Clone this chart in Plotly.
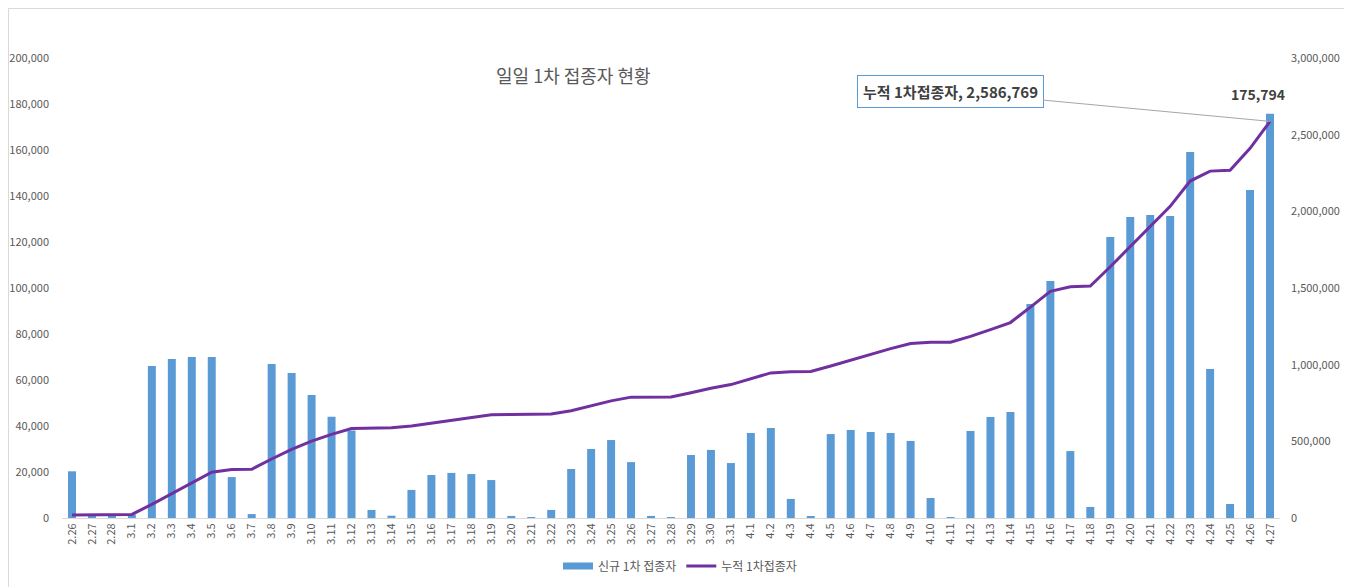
import plotly.graph_objects as go

dates = ["2.26", "2.27", "2.28"] + [f"3.{d}" for d in range(1, 32)] + [f"4.{d}" for d in range(1, 28)]

daily = [
    20300, 800, 700,
    1500, 66100, 69100, 70000, 70000, 17800, 1700, 67000, 63000, 53500,
    44000, 38000, 3500, 1000, 12200, 18700, 19600, 19100, 16500, 900,
    200, 3500, 21300, 30000, 33900, 24300, 900, 200, 27400, 29600, 23900,
    37000, 39100, 8300, 600, 36500, 38300, 37400, 37000, 33500, 8700,
    200, 37800, 43900, 46100, 93000, 103000, 29100, 4800, 122200, 130900,
    131700, 131300, 159100, 64800, 6100, 142600, 175794,
]

cumulative = [
    20300, 21100, 21800,
    23300, 89400, 158500, 228500, 298500, 316300, 318000, 385000, 448000, 501500,
    545500, 583500, 587000, 588000, 600200, 618900, 638500, 657600, 674100, 675000,
    675200, 678700, 700000, 730000, 763900, 788200, 789100, 789300, 816700, 846300, 870200,
    907200, 946300, 954600, 955200, 991700, 1030000, 1067400, 1104400, 1137900, 1146600,
    1146800, 1184600, 1228500, 1274600, 1375600, 1478600, 1507700, 1512500, 1638700, 1769600,
    1901300, 2032600, 2197500, 2262300, 2268400, 2411000, 2586769,
]

left_ticks = list(range(0, 200001, 20000))
right_ticks = list(range(0, 3000001, 500000))

FONT = "Noto Sans CJK KR"
GRAY = "#595959"
BLUE = "#5B9BD5"
last = len(dates) - 1

# page body has an 8px margin; figure is sized/positioned to compensate
W, H = 1344, 579
L, R, T, B = 54, 72, 50, 69
PW, PH = W - L - R, H - T - B

fig = go.Figure()
fig.add_trace(go.Bar(
    x=dates, y=daily, name="신규 1차 접종자", showlegend=False,
    marker=dict(color=BLUE, line=dict(width=0)), width=0.4,
))
fig.add_trace(go.Scatter(
    x=[None], y=[None], name="신규 1차 접종자", mode="lines",
    line=dict(color=BLUE, width=7),
))
fig.add_trace(go.Scatter(
    x=dates, y=cumulative, name="누적 1차접종자", yaxis="y2",
    mode="lines", line=dict(color="#7030A0", width=3),
))

fig.update_layout(
    width=W, height=H,
    margin=dict(l=L, r=R, t=T, b=B, autoexpand=False),
    paper_bgcolor="white", plot_bgcolor="white",
    font=dict(family=FONT, color=GRAY, size=11),
    showlegend=True,
    legend=dict(orientation="h", x=(680 - 8 - L) / PW, xanchor="center",
                y=(510 - 558) / PH, yanchor="middle",
                font=dict(size=12, color=GRAY), itemwidth=30, tracegroupgap=0),
    xaxis=dict(type="category", tickangle=-90, showgrid=False, showline=True,
               linecolor="#D9D9D9", linewidth=1, ticks="", tickfont=dict(size=11, color=GRAY),
               zeroline=False, range=[-0.5, 60.5], automargin=False),
    yaxis=dict(range=[0, 200000], tickvals=left_ticks, tickformat=",", showgrid=False,
               zeroline=False, showline=False, ticks="", ticklabelstandoff=12,
               tickfont=dict(size=11, color=GRAY), automargin=False),
    yaxis2=dict(range=[0, 3000000], tickvals=right_ticks, tickformat=",", overlaying="y",
                side="right", showgrid=False, zeroline=False, showline=False, ticks="",
                ticklabelstandoff=10, tickfont=dict(size=11, color=GRAY), automargin=False),
    annotations=[
        dict(text="일일 1차 접종자 현황", xref="paper", yref="paper",
             x=(573 - 8 - L) / PW, y=(510 - 67) / PH, xanchor="center", yanchor="middle",
             showarrow=False, font=dict(size=18, color=GRAY, family=FONT)),
        dict(text="<b>175,794</b>", x=last, y=daily[-1], xref="x", yref="y",
             yshift=8, xshift=-12, showarrow=False, yanchor="bottom",
             font=dict(size=14, color="#404040", family=FONT)),
        dict(text="<b>누적 1차접종자, 2,586,769</b>", x=last, y=cumulative[-1],
             xref="x", yref="y2", showarrow=True, arrowhead=0, arrowwidth=1,
             arrowcolor="#A6A6A6", ax=-320, ay=-30, bordercolor=BLUE, borderwidth=1,
             borderpad=5, bgcolor="white", font=dict(size=15, color="#404040", family=FONT)),
    ],
    shapes=[
        dict(type="rect", xref="paper", yref="paper",
             x0=(0.5 - L) / PW, x1=(W - 1 - L) / PW,
             y0=(H - T - PH - (H - 1 - T)) / PH, y1=(T + PH - 0.5 - 0) / PH,
             line=dict(color="#D9D9D9", width=1), fillcolor="rgba(0,0,0,0)", layer="below"),
    ],
)

fig.write_html("out.html")
